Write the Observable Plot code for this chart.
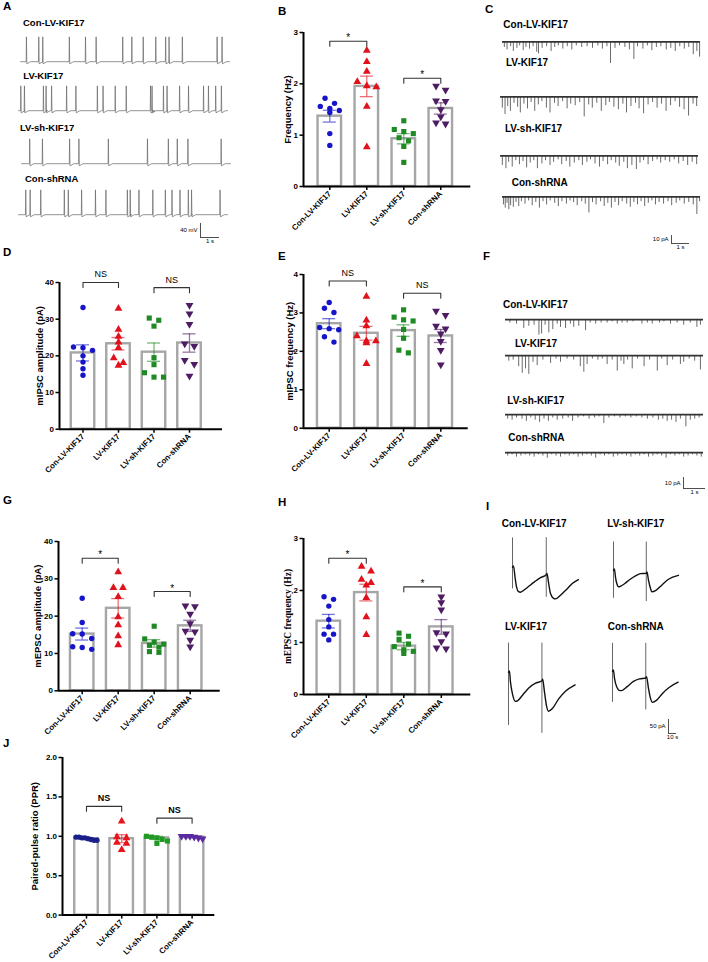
<!DOCTYPE html>
<html><head><meta charset="utf-8">
<script src="https://cdn.jsdelivr.net/npm/d3@7"></script>
<script src="https://cdn.jsdelivr.net/npm/@observablehq/plot@0.6"></script>
<style>
body{margin:0;background:#fff;}
#fig{position:relative;width:708px;height:962px;overflow:hidden;background:#fff;font-family:"Liberation Sans",Arial,sans-serif;}
.abs{position:absolute;}
.abs svg{overflow:visible;display:block;}
.lbl{position:absolute;font-weight:bold;white-space:nowrap;line-height:1;transform:translateY(-50%);color:#000;}
</style></head><body><div id="fig"></div><script>
// ---------- data ----------
const groups = ["Con-LV-KIF17","LV-KIF17","LV-sh-KIF17","Con-shRNA"];

// B: spontaneous firing frequency (Hz)
const bCon = [1.72,1.62,1.56,1.52,1.48,1.44,1.03,0.80];
const bLV = [2.65,2.43,2.24,2.04,1.96,1.94,1.56,0.77];
const bSh = [1.28,1.11,1.07,1.03,0.95,0.89,0.78,0.47];
const bShRNA = [1.96,1.88,1.67,1.66,1.50,1.36,1.24,1.22];
const bMean = [1.37,1.95,0.93,1.52];
const bSem = [0.115,0.2,0.1,0.11];

// D: mIPSC amplitude (pA)
const dCon = [33.2,22.4,22.2,21.5,20.0,18.3,16.5,14.7];
const dLV = [32.9,27.2,25.3,23.7,22.2,19.4,18.1,17.4];
const dSh = [30.3,29.7,28.1,19.5,17.6,15.4,14.2,14.2];
const dShRNA = [33.8,31.5,28.6,23.3,22.6,18.8,17.7,14.5];
const dMean = [20.8,23.3,21.0,23.5];
const dSem = [2.2,1.7,2.5,2.5];

// E: mIPSC frequency (Hz)
const eCon = [3.27,3.12,3.01,2.62,2.59,2.56,2.38,2.24];
const eLV = [3.43,2.81,2.66,2.40,2.27,2.27,2.22,1.68];
const eSh = [3.08,2.89,2.82,2.79,2.57,2.34,2.03,1.96];
const eShRNA = [3.05,2.94,2.66,2.59,2.46,2.26,2.03,1.65];
const eMean = [2.72,2.47,2.54,2.40];
const eSem = [0.13,0.18,0.15,0.17];

// G: mEPSC amplitude (pA)
const gCon = [24.8,18.3,15.3,15.2,14.0,11.8,11.6,11.1];
const gLV = [31.8,27.6,27.6,25.2,19.8,17.6,14.7,12.3];
const gSh = [17.3,13.9,13.0,12.5,12.2,11.7,10.5,10.3];
const gShRNA = [22.8,22.6,20.6,18.0,16.0,15.8,13.6,11.8];
const gMean = [15.2,22.1,12.7,17.4];
const gSem = [1.6,2.6,1.0,1.5];

// H: mEPSC frequency (Hz)
const hCon = [1.88,1.83,1.70,1.44,1.30,1.16,1.16,1.05];
const hLV = [2.46,2.37,2.21,2.15,2.10,1.86,1.49,1.15];
const hSh = [1.18,1.12,1.06,0.97,0.92,0.86,0.83,0.79];
const hShRNA = [1.88,1.77,1.63,1.19,1.17,1.02,0.90,0.88];
const hMean = [1.41,1.96,0.93,1.30];
const hSem = [0.13,0.16,0.07,0.14];

// J: paired-pulse ratio
const jCon = [0.95,0.97,0.98,0.99,0.99,0.98,0.96,0.95];
const jLV = [1.19,0.99,0.98,0.92,0.91,0.83];
const jSh = [1.00,0.99,0.98,0.96,0.94,0.91];
const jShRNA = [1.00,1.00,1.00,0.99,0.98,0.97];
const jMean = [0.97,0.97,0.98,0.99];
const jSem = [0.01,0.05,0.02,0.01];

// A: action potential spike times (s)
const aSpikes = [
  [0.31,0.96,1.17,2.57,3.42,3.98,5.38,5.86,6.46,7.12,7.64,7.82,8.52,10.35,10.61],
  [0.12,0.31,1.31,1.45,1.74,2.53,3.02,4.15,4.45,5.09,5.67,6.95,7.03,7.63,7.82,8.48,8.95,9.74,10.0,10.38,10.68],
  [0.43,1.10,2.53,3.02,4.57,6.63,7.73,8.20,8.76,10.51],
  [0.38,0.61,1.17,2.41,2.62,3.32,4.05,4.6,5.73,5.88,6.34,7.07,7.73,8.08,8.5,8.94,9.11,10.61]
];

// C: mIPSC events [time s, amplitude pA]
const cEvents = [
  [[0.1,7],[0.25,10],[0.45,6],[0.6,12],[0.8,8],[0.95,5],[1.15,11],[1.3,7],[1.5,9],[1.7,6],[1.9,13],[2.0,15],[2.2,8],[2.45,6],[2.7,12],[2.9,7],[3.1,5],[3.35,9],[3.6,6],[3.85,10],[4.1,5],[4.4,7],[4.7,6],[5.0,8],[5.3,5],[5.55,9],[5.8,6],[6.0,27],[6.25,8],[6.5,5],[6.8,7],[7.05,10],[7.3,22],[7.5,6],[7.8,9],[8.05,5],[8.3,11],[8.55,7],[8.8,6],[9.1,10],[9.35,8],[9.6,12],[9.85,6],[10.1,9],[10.35,7],[10.6,16],[10.8,12],[10.95,19]],
  [[0.1,14],[0.25,22],[0.4,12],[0.55,18],[0.75,8],[0.95,13],[1.1,20],[1.3,9],[1.5,15],[1.7,7],[1.9,18],[2.1,10],[2.3,6],[2.55,14],[2.75,20],[3.0,8],[3.2,12],[3.45,6],[3.7,15],[3.9,9],[4.15,11],[4.4,7],[4.65,25],[4.9,10],[5.1,14],[5.35,8],[5.6,18],[5.85,11],[6.05,7],[6.3,13],[6.55,16],[6.8,9],[7.0,20],[7.25,12],[7.5,8],[7.7,15],[7.95,21],[8.2,10],[8.45,7],[8.7,14],[8.95,9],[9.2,18],[9.45,11],[9.7,6],[9.95,13],[10.2,16],[10.45,24],[10.7,9],[10.9,12]],
  [[0.1,12],[0.3,16],[0.45,8],[0.65,14],[0.85,6],[1.05,11],[1.25,7],[1.45,15],[1.65,9],[1.85,6],[2.05,16],[2.3,10],[2.5,6],[2.75,12],[2.95,8],[3.2,5],[3.4,11],[3.65,7],[3.85,14],[4.1,9],[4.35,6],[4.55,12],[4.8,8],[5.0,5],[5.25,10],[5.5,14],[5.7,7],[5.95,11],[6.15,6],[6.4,9],[6.6,13],[6.85,8],[7.05,16],[7.3,12],[7.55,17],[7.75,9],[7.95,6],[8.2,11],[8.45,7],[8.7,5],[8.9,9],[9.15,6],[9.4,8],[9.65,5],[9.9,10],[10.15,7],[10.4,12],[10.65,8],[10.9,11]],
  [[0.05,10],[0.15,14],[0.25,8],[0.35,16],[0.45,11],[0.6,13],[0.75,7],[0.9,12],[1.05,6],[1.25,9],[1.45,5],[1.65,11],[1.85,7],[2.05,14],[2.25,6],[2.45,10],[2.65,5],[2.9,8],[3.1,12],[3.3,6],[3.55,9],[3.75,5],[3.95,7],[4.15,11],[4.4,6],[4.6,9],[4.8,20],[5.0,7],[5.2,10],[5.45,6],[5.65,12],[5.85,8],[6.05,14],[6.25,7],[6.45,11],[6.65,6],[6.9,9],[7.1,13],[7.3,7],[7.5,10],[7.7,6],[7.9,12],[8.1,8],[8.3,5],[8.5,10],[8.7,7],[8.95,9],[9.2,6],[9.4,11],[9.65,8],[9.85,5],[10.1,9],[10.35,7],[10.6,10],[10.8,22],[10.95,6]]
];

// F: mEPSC events [time s, amplitude pA]
const fEvents = [
  [[0.2,3],[0.5,4],[0.83,8],[1.06,6],[1.3,5],[1.52,14],[1.64,13],[1.8,5],[1.97,12],[2.15,9],[2.35,4],[2.5,7],[2.73,8],[2.95,4],[3.1,7],[3.33,6],[3.64,10],[3.85,3],[4.1,4],[4.35,3],[4.62,3],[4.85,2],[5.08,4],[5.3,3],[5.53,3],[5.8,2],[6.2,4],[6.45,3],[6.67,4],[7.0,3],[7.2,2],[7.5,4],[7.8,3],[8.1,5],[8.4,3],[8.7,7],[8.86,5]],
  [[0.15,5],[0.35,4],[0.6,10],[0.76,16],[0.91,12],[1.06,17],[1.25,6],[1.44,9],[1.7,4],[2.05,7],[2.3,3],[2.5,6],[2.8,3],[3.1,4],[3.4,10],[3.56,15],[3.71,8],[3.95,3],[4.2,4],[4.4,3],[4.62,8],[4.85,4],[5.08,14],[5.25,5],[5.38,8],[5.55,4],[5.76,12],[6.0,3],[6.3,10],[6.55,4],[6.9,14],[7.1,3],[7.35,9],[7.6,4],[7.95,8],[8.1,6],[8.35,3],[8.6,5],[8.86,13]],
  [[0.1,4],[0.3,5],[0.5,3],[0.75,4],[0.95,6],[1.15,3],[1.35,5],[1.55,7],[1.75,4],[1.95,6],[2.15,3],[2.35,5],[2.6,4],[2.85,3],[3.05,6],[3.3,3],[3.55,2],[3.8,4],[4.05,3],[4.25,2],[4.47,8],[4.7,3],[4.95,2],[5.2,3],[5.45,2],[5.7,3],[5.95,2],[6.2,3],[6.45,4],[6.7,3],[6.95,5],[7.15,4],[7.35,6],[7.55,5],[7.75,7],[7.95,4],[8.2,11],[8.4,5],[8.6,4],[8.8,3]],
  [[0.1,3],[0.3,2],[0.5,4],[0.7,3],[0.9,2],[1.1,3],[1.3,4],[1.5,2],[1.7,3],[1.9,5],[2.1,2],[2.3,3],[2.5,4],[2.7,2],[2.9,3],[3.1,2],[3.3,4],[3.5,3],[3.7,2],[3.9,3],[4.1,5],[4.3,2],[4.5,3],[4.7,2],[4.9,4],[5.1,3],[5.3,2],[5.5,3],[5.7,4],[5.9,2],[6.1,3],[6.3,2],[6.5,4],[6.7,3],[6.9,2],[7.1,3],[7.3,5],[7.5,2],[7.7,3],[7.9,2],[8.1,4],[8.3,3],[8.5,2],[8.7,3],[8.9,4]]
];

// I: paired-pulse evoked currents [time s, current pA] and stimulus artifacts [time, top pA, bottom pA]
const iConLV = [[0,0],[1.2,5],[3.2,-36],[5.1,-71],[7.5,-87],[10,-89],[15.1,-80],[21.2,-66],[27.5,-52],[35,-37],[42.2,-27],[43.1,-22],[45,-54],[47.4,-93],[51.3,-111],[53.7,-113],[60,-100],[67.6,-79],[75.1,-57],[82.4,-44]];
const iConLVStim = [[0,105,-77],[42.2,106,-107]];
const iShKIF = [[0,0],[1.1,5],[2.5,-25],[4.4,-50],[6.3,-59],[8.8,-57],[13.8,-48],[20,-34],[27.5,-20],[33.8,-12],[41,-11],[41.8,-6],[43.8,-36],[46.2,-64],[48,-77],[52.5,-73],[60,-54],[68.8,-32],[81.2,-18]];
const iShKIFStim = [[0,101,-100],[41,101,-112]];
const iLVKIF = [[0,0],[1.1,5],[2.5,-36],[5.1,-79],[8.4,-104],[11.2,-102],[17.5,-82],[25,-57],[33.8,-39],[41.8,-30],[42.7,-25],[45,-71],[47.4,-118],[50,-139],[55,-129],[62.5,-96],[71.2,-68],[83.3,-45]];
const iLVKIFStim = [[0,104,-190],[41.8,104,-218]];
const iShRNA = [[0,0],[1.1,5],[2.5,-25],[5.1,-54],[9.5,-69],[12.4,-68],[18.7,-54],[26.2,-36],[33.8,-27],[41.6,-24],[42.5,-19],[45,-61],[47.4,-96],[50,-111],[55,-104],[62.5,-79],[71.2,-57],[82.1,-39]];
const iShRNAStim = [[0,100,-111],[41.6,100,-138]];

// ---------- helpers ----------
const FONT = '"Liberation Sans", Arial, sans-serif';
const fig = document.getElementById("fig");
function place(node, left, top) {
  const d = document.createElement("div");
  d.className = "abs"; d.style.left = left + "px"; d.style.top = top + "px";
  d.appendChild(node); fig.appendChild(d);
}
function label(text, left, cy, size) {
  const d = document.createElement("div");
  d.className = "lbl"; d.textContent = text;
  d.style.left = left + "px"; d.style.top = cy + "px"; d.style.fontSize = size + "px";
  fig.appendChild(d);
}
const baseStyle = {background: "transparent", fontFamily: FONT, color: "black", overflow: "visible"};

function tracePlot(left, top, xDomain, yDomain, pxX, pxY, marks) {
  const w = (xDomain[1] - xDomain[0]) * pxX, h = (yDomain[1] - yDomain[0]) * pxY;
  const p = Plot.plot({width: w, height: h, margin: 0,
    x: {domain: xDomain, axis: null}, y: {domain: yDomain, axis: null},
    style: baseStyle, marks});
  place(p, left, top);
}

function scaleBar(left, corner, xLen, yLen, pxX, pxY, yText, xText) {
  const h = yLen * pxY;
  tracePlot(left, corner - h, [0, xLen], [0, yLen], pxX, pxY, [
    Plot.ruleX([0], {y1: 0, y2: yLen, stroke: "#222", strokeWidth: 0.8}),
    Plot.ruleY([0], {x1: 0, x2: xLen, stroke: "#222", strokeWidth: 0.8}),
    Plot.text([yText], {frameAnchor: "left", dx: -3, textAnchor: "end", fontSize: 6}),
    Plot.text([xText], {frameAnchor: "bottom", dy: 5, fontSize: 6})
  ]);
}

const triDown = {draw(ctx, size) {
  const y = -Math.sqrt(size / (Math.sqrt(3) * 3)), s3 = Math.sqrt(3);
  ctx.moveTo(0, -y * 2); ctx.lineTo(-s3 * y, y); ctx.lineTo(s3 * y, y); ctx.closePath();
}};
const symbols = ["circle", "triangle", "square", triDown];
const defColors = ["#1616c8", "#e0121c", "#1f8a24", "#4e1c63"];

function barPanel(p) {
  const mL = 50, mT = 26, mR = 8, mB = 80;
  const fw = p.xRight - p.xAxis, fh = p.y0 - p.yTop;
  const W = fw + mL + mR, H = fh + mT + mB;
  const xDom = [(p.xAxis - p.c0) / p.step, (p.xRight - p.c0) / p.step];
  const ppu = fh / p.ymax;
  const colors = p.colors || defColors;
  const pts = [];
  p.values.forEach((vals, gi) => {
    const s = vals.slice().sort((a, b) => b - a), cl = [];
    s.forEach(v => { const c = cl[cl.length - 1]; if (c && (c[0] - v) * ppu < 5.5) c.push(v); else cl.push([v]); });
    cl.forEach(c => {
      const k = c.length, sp = k > 1 ? Math.min(9.5, 21 / (k - 1)) : 0;
      c.forEach((v, j) => pts.push({g: gi, x: gi + (j - (k - 1) / 2) * sp / p.step, y: v}));
    });
  });
  const bars = p.mean.map((m, i) => ({i, m, s: p.sem[i], c: colors[i]}));
  const hw = 11.75 / p.step, cap = 6.5 / p.step, tick = 5 / ppu;
  const br = p.brackets.map((b, k) => ({...b, k}));
  const brPts = br.flatMap(b => [
    {k: b.k, x: b.a, y: b.y - tick}, {k: b.k, x: b.a, y: b.y},
    {k: b.k, x: b.b, y: b.y}, {k: b.k, x: b.b, y: b.y - tick}]);
  const star = br.filter(b => b.label === "*"), ns = br.filter(b => b.label !== "*");
  const marks = [
    Plot.rectY(bars, {x1: d => d.i - hw, x2: d => d.i + hw, y: "m", fill: "white", stroke: "#a6a6a6", strokeWidth: 2.4}),
    ...[0, 1, 2, 3].map(g => Plot.dot(pts.filter(d => d.g === g), {x: "x", y: "y", symbol: symbols[g], fill: colors[g], r: g === 0 ? 2.7 : 2.9})),
    Plot.ruleX(bars, {x: "i", y1: d => d.m - d.s, y2: d => d.m + d.s, stroke: "c", strokeOpacity: 0.6, strokeWidth: 1.3}),
    Plot.ruleY(bars, {y: d => d.m + d.s, x1: d => d.i - cap, x2: d => d.i + cap, stroke: "c", strokeOpacity: 0.6, strokeWidth: 1.3}),
    Plot.ruleY(bars, {y: d => d.m - d.s, x1: d => d.i - cap, x2: d => d.i + cap, stroke: "c", strokeOpacity: 0.6, strokeWidth: 1.3}),
    Plot.line(brPts, {x: "x", y: "y", z: "k", stroke: "#333", strokeWidth: 1.1}),
    Plot.text(star, {x: d => (d.a + d.b) / 2, y: "y", text: "label", dy: -3, fontSize: 10}),
    Plot.text(ns, {x: d => (d.a + d.b) / 2, y: "y", text: "label", dy: -8, fontSize: 9, fontWeight: p.nsBold ? "bold" : "normal"}),
    Plot.ruleY([0], {stroke: "black", strokeWidth: 2}),
    Plot.ruleX([xDom[0]], {y1: 0, y2: p.ymax, stroke: "black", strokeWidth: 2}),
    Plot.axisY({ticks: p.ticks, tickFormat: p.fmt, tickSize: 3.5, tickPadding: 2, fontSize: 8, fontWeight: "bold", strokeWidth: 1.5, label: null}),
    Plot.axisX({ticks: [0, 1, 2, 3], tickFormat: i => groups[i], tickRotate: -45, tickSize: 4, tickPadding: 2, fontSize: 8, fontWeight: "bold", strokeWidth: 1.5, label: null}),
    Plot.text([p.ylabel], {frameAnchor: "left", dx: p.ylabDx, rotate: -90, textAnchor: "middle", lineAnchor: "middle", fontSize: 9.5, fontWeight: "bold", fontFamily: p.ylabFont || FONT})
  ];
  const plot = Plot.plot({width: W, height: H, marginLeft: mL, marginTop: mT, marginRight: mR, marginBottom: mB,
    x: {type: "linear", domain: xDom}, y: {domain: [0, p.ymax]}, color: {type: "identity"},
    style: baseStyle, marks});
  place(plot, p.xAxis - mL, p.yTop - mT);
}

// ---------- panel letters ----------
[["A",3,7],["B",278,12],["C",485,10],["D",3,253],["E",278,257],["F",483,257],["G",3,501],["H",278,503],["I",486,507],["J",3,744]]
  .forEach(([t, x, y]) => label(t, x, y, 11.5));

// ---------- A ----------
function spikeLine(times) {
  const pts = [[0, -60]];
  times.forEach(t => { pts.push([t - 0.015, -60], [t, 11], [t + 0.02, -66], [t + 0.22, -60]); });
  pts.push([11, -60]);
  return pts;
}
const aLeft = [20, 18, 21, 18], aBase = [61, 110, 163.3, 214];
const aLabels = [[23, 23], [23.3, 76], [20, 128.3], [25, 179]];
aSpikes.forEach((sp, k) => {
  label(groups[k], aLabels[k][0], aLabels[k][1], 9.5);
  tracePlot(aLeft[k], aBase[k] - 72 * 0.35, [0, 11], [-70, 12], 19, 0.35, [
    Plot.line(spikeLine(sp), {x: d => d[0], y: d => d[1], stroke: "#666", strokeWidth: 0.7})
  ]);
});
scaleBar(200, 237, 1, 40, 19, 0.35, "40 mV", "1 s");

// ---------- C ----------
function eventMarks(ev) {
  return [
    Plot.ruleX(ev, {x: d => d[0], y1: 0, y2: d => -d[1], stroke: "#444", strokeWidth: 0.8}),
    Plot.ruleY([0], {stroke: "#333", strokeWidth: 1.8})
  ];
}
const cLeft = [501.7, 500, 500, 502.3], cBase = [41.7, 96.7, 155, 196.7];
const cLabels = [[503.3, 25], [506, 63.3], [505, 129.3], [511.7, 182.7]];
cEvents.forEach((ev, k) => {
  label(groups[k], cLabels[k][0], cLabels[k][1], 10);
  tracePlot(cLeft[k], cBase[k] - 3 * 0.8, [0, 11], [-30, 3], 18, 0.8, eventMarks(ev));
});
scaleBar(671, 243, 1, 10, 18, 0.8, "10 pA", "1 s");

// ---------- F ----------
const fBase = [319, 355, 414, 452];
const fLabels = [[503, 305], [515, 344], [507.3, 400.7], [508.3, 437.5]];
fEvents.forEach((ev, k) => {
  label(groups[k], fLabels[k][0], fLabels[k][1], 10);
  tracePlot(505, fBase[k] - 2 * 1.1, [0, 9], [-18, 2], 22, 1.1, eventMarks(ev));
});
scaleBar(683, 488, 1, 10, 22, 1.1, "10 pA", "1 s");

// ---------- I ----------
const iTraces = [
  {name: groups[0], w: iConLV, s: iConLVStim, x: 512.3, y: 566.7, lx: 501.7, ly: 524.3},
  {name: groups[2], w: iShKIF, s: iShKIFStim, x: 613.3, y: 569.3, lx: 607.3, ly: 524.3},
  {name: groups[1], w: iLVKIF, s: iLVKIFStim, x: 508.3, y: 671.7, lx: 505, ly: 627.3},
  {name: groups[3], w: iShRNA, s: iShRNAStim, x: 611.7, y: 670.7, lx: 607.7, ly: 627.3}
];
iTraces.forEach(t => {
  label(t.name, t.lx, t.ly, 10);
  tracePlot(t.x, t.y - 110 * 0.28, [0, 84], [-230, 110], 0.8, 0.28, [
    Plot.ruleX(t.s, {x: d => d[0], y1: d => d[2], y2: d => d[1], stroke: "#555", strokeWidth: 0.9}),
    Plot.line(t.w, {x: d => d[0], y: d => d[1], curve: "monotone-x", stroke: "#111", strokeWidth: 1.4})
  ]);
});
scaleBar(668.3, 733.3, 10, 50, 0.8, 0.28, "50 pA", "10 s");

// ---------- bar panels ----------
const intFmt = d3.format("d");
barPanel({xAxis: 302.7, y0: 185.7, yTop: 31.7, ymax: 3, c0: 329, step: 37, xRight: 470,
  values: [bCon, bLV, bSh, bShRNA], mean: bMean, sem: bSem, ticks: [0, 1, 2, 3], fmt: intFmt,
  brackets: [{a: 0, b: 1, y: 2.83, label: "*"}, {a: 2, b: 3, y: 2.11, label: "*"}],
  ylabel: "Frequency (Hz)", ylabDx: -16});
barPanel({xAxis: 59, y0: 428.7, yTop: 282, ymax: 40, c0: 82.5, step: 35.5, xRight: 222,
  values: [dCon, dLV, dSh, dShRNA], mean: dMean, sem: dSem, ticks: [0, 10, 20, 30, 40], fmt: intFmt,
  brackets: [{a: 0, b: 1, y: 40, label: "NS"}, {a: 2, b: 3, y: 38.6, label: "NS"}],
  ylabel: "mIPSC amplitude (pA)", ylabDx: -20});
barPanel({xAxis: 303.3, y0: 427.7, yTop: 274, ymax: 4, c0: 329, step: 37.2, xRight: 468,
  values: [eCon, eLV, eSh, eShRNA], mean: eMean, sem: eSem, ticks: [0, 1, 2, 3, 4], fmt: intFmt,
  brackets: [{a: 0, b: 1, y: 3.83, label: "NS"}, {a: 2, b: 3, y: 3.51, label: "NS"}],
  ylabel: "mIPSC frequency (Hz)", ylabDx: -14});
barPanel({xAxis: 58.3, y0: 690.3, yTop: 541, ymax: 40, c0: 82, step: 36, xRight: 220,
  values: [gCon, gLV, gSh, gShRNA], mean: gMean, sem: gSem, ticks: [0, 10, 20, 30, 40], fmt: intFmt,
  brackets: [{a: 0, b: 1, y: 35.5, label: "*"}, {a: 2, b: 3, y: 26.6, label: "*"}],
  ylabel: "mEPSC amplitude (pA)", ylabDx: -21});
barPanel({xAxis: 302.7, y0: 693.7, yTop: 537.7, ymax: 3, c0: 328, step: 37.5, xRight: 470,
  values: [hCon, hLV, hSh, hShRNA], mean: hMean, sem: hSem, ticks: [0, 1, 2, 3], fmt: intFmt,
  brackets: [{a: 0, b: 1, y: 2.62, label: "*"}, {a: 2, b: 3, y: 2.07, label: "*"}],
  ylabel: "mEPSC frequency (Hz)", ylabDx: -16, ylabFont: '"Liberation Serif", "Times New Roman", serif'});
barPanel({xAxis: 61.7, y0: 914.3, yTop: 756.7, ymax: 2, c0: 85.7, step: 35.2, xRight: 214,
  values: [jCon, jLV, jSh, jShRNA], mean: jMean, sem: jSem, ticks: [0, 0.5, 1, 1.5, 2], fmt: d3.format(".1f"),
  colors: ["#1a1f8a", "#e8141c", "#1f9a24", "#5b2aa0"], nsBold: true,
  brackets: [{a: 0, b: 1, y: 1.38, label: "NS"}, {a: 2, b: 3, y: 1.23, label: "NS"}],
  ylabel: "Paired-pulse ratio (PPR)", ylabDx: -28});
</script></body></html>
